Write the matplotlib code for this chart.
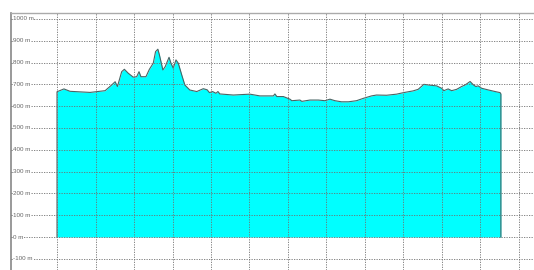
import matplotlib.pyplot as plt
import numpy as np

# distance along the track (one unit = one vertical grid step) and elevation in m
distance = [0.00, 0.18, 0.34, 0.86, 1.25, 1.42, 1.51, 1.57, 1.68, 1.75, 1.85, 1.98,
            2.07, 2.13, 2.18, 2.31, 2.40, 2.50, 2.56, 2.62, 2.66, 2.75, 2.81, 2.91,
            2.96, 3.02, 3.09, 3.15, 3.24, 3.32, 3.45, 3.63, 3.80, 3.90, 3.96, 4.04,
            4.13, 4.18, 4.23, 4.58, 5.01, 5.27, 5.62, 5.66, 5.71, 5.88, 6.05, 6.10,
            6.31, 6.36, 6.57, 6.79, 6.96, 7.09, 7.22, 7.39, 7.57, 7.78, 7.96, 8.17,
            8.30, 8.56, 8.82, 9.00, 9.25, 9.38, 9.53, 9.69, 9.86, 9.99, 10.05, 10.16,
            10.25, 10.38, 10.51, 10.60, 10.73, 10.82, 10.88, 10.94, 11.03, 11.21, 11.38,
            11.51, 11.53]
elevation = [666, 679, 668, 663, 671, 697, 712, 690, 758, 769, 751, 733,
             735, 758, 735, 735, 769, 797, 850, 861, 835, 766, 781, 824,
             797, 774, 812, 797, 743, 697, 674, 667, 680, 675, 662, 667,
             659, 667, 656, 651, 655, 647, 647, 656, 644, 644, 632, 625,
             628, 622, 628, 628, 625, 632, 625, 620, 620, 625, 636, 647,
             651, 650, 655, 662, 670, 677, 700, 696, 693, 682, 671, 679,
             671, 677, 690, 697, 713, 697, 690, 693, 682, 674, 667,
             662, 656]

y_ticks = [-100, 0, 100, 200, 300, 400, 500, 600, 700, 800, 900, 1000]
y_labels = [str(v) + ' m' for v in y_ticks]
x_grid = list(range(0, 13))

fig = plt.figure(figsize=(5.34, 2.70), dpi=100, facecolor='w')
ax = fig.add_axes([11 / 534, 0, 1 - 11 / 534, 257 / 270])

d = np.asarray(distance)
e = np.asarray(elevation)
ax.fill_between(d, 0, e, color='#00ffff', linewidth=0, zorder=1)
ax.plot(np.r_[d[0], d, d[-1]], np.r_[0, e, 0], color='#4a6464', linewidth=0.8, zorder=2)

grid_style = dict(color='#707070', linewidth=0.6, linestyle=(0, (1.5, 1.5)), zorder=3)
for v in y_ticks:
    ax.axhline(v, **grid_style)
for v in x_grid:
    ax.axvline(v, **grid_style)

for v, lab in zip(y_ticks, y_labels):
    ax.text(0.004, v, lab, transform=ax.get_yaxis_transform(), fontsize=4.5,
            family='Liberation Sans', color='#666666', va='center', ha='left', zorder=4,
            bbox=dict(facecolor='white', edgecolor='none', pad=0.3))

ax.set_xlim(-1.195, 12.39)
ax.set_ylim(-151, 1027)
ax.set_xticks([])
ax.set_yticks([])
for side in ['right', 'bottom']:
    ax.spines[side].set_visible(False)
ax.spines['left'].set_color('#888888')
ax.spines['top'].set_color('#aaaaaa')
ax.spines['left'].set_linewidth(1.2)
ax.spines['top'].set_linewidth(1.0)

fig.savefig('out.png', dpi=100)
